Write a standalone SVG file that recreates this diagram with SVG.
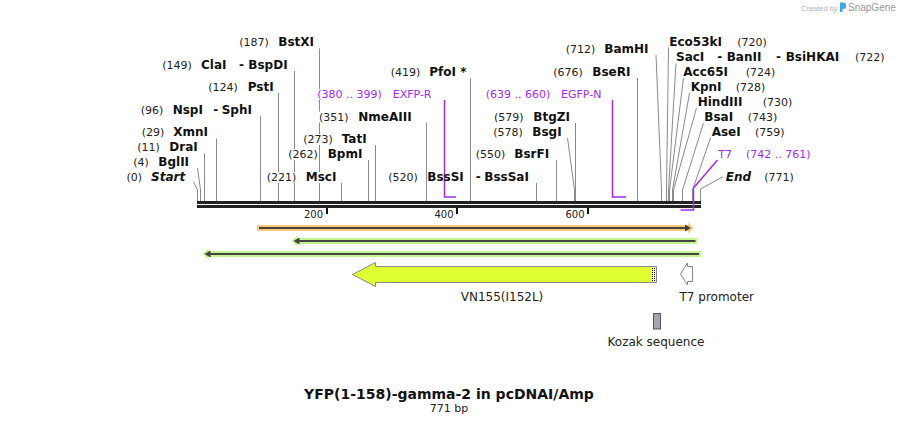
<svg xmlns="http://www.w3.org/2000/svg" width="898" height="424" viewBox="0 0 898 424">
<defs>
<style>
.num{font:11px "DejaVu Sans",Verdana,sans-serif;fill:#222}
.nm{font:bold 12px "DejaVu Sans",Verdana,sans-serif;fill:#111}
.it{font-style:italic}
.pr{font:11px "DejaVu Sans",Verdana,sans-serif;fill:#a02af0}
.cut{stroke:#8a8a8a;stroke-width:1;fill:none}
.pline{stroke:#a02af0;stroke-width:1.5;fill:none}
.ko{fill:#fff}
.ax{font:10px "DejaVu Sans",Verdana,sans-serif;fill:#222;text-anchor:end}
.flab{font:12px "DejaVu Sans",Verdana,sans-serif;fill:#222}
.dark{stroke:#444;stroke-width:2;fill:none}
.darkhead{fill:#444}
.org{fill:#fcc87c}
.grn{fill:#c2f590}
</style>
<pattern id="dots" width="2" height="2" patternUnits="userSpaceOnUse">
<rect width="2" height="2" fill="#f4ffc0"/>
<rect width="1" height="1" fill="#111"/>
</pattern>
</defs>
<rect width="898" height="424" fill="#fff"/>

<g id="brand">
<text x="801" y="10.5" style="font:7.5px 'Liberation Sans',Arial,sans-serif;fill:#b5b5b5">Created by</text>
<path d="M840,2.5 h3.5 a2.5,2.5 0 0 1 2.5,2.5 v1.5 a2.5,2.5 0 0 1 -2.5,2.5 h-1 v3 h-2.5 z" fill="#3aa6e4"/>
<text x="848" y="11" style="font:10px 'Liberation Sans',Arial,sans-serif;fill:#9a9a9a">SnapGene</text>
</g>

<g id="connectors">
<polyline class="cut" points="193.5,182 197.5,190 197.5,201"/>
<polyline class="cut" points="197.5,168 200.5,190 200.5,201"/>
<line class="cut" x1="204.5" y1="153.5" x2="204.5" y2="201"/>
<line class="cut" x1="216.5" y1="138.5" x2="216.5" y2="201"/>
<line class="cut" x1="260.5" y1="116" x2="260.5" y2="201"/>
<line class="cut" x1="278.5" y1="93" x2="278.5" y2="201"/>
<line class="cut" x1="294.5" y1="71" x2="294.5" y2="201"/>
<line class="cut" x1="319.5" y1="48.5" x2="319.5" y2="201"/>
<line class="cut" x1="341.5" y1="183" x2="341.5" y2="201"/>
<line class="cut" x1="368.5" y1="160" x2="368.5" y2="201"/>
<line class="cut" x1="375.5" y1="145" x2="375.5" y2="201"/>
<line class="cut" x1="426.5" y1="122.5" x2="426.5" y2="201"/>
<line class="cut" x1="470.5" y1="78.5" x2="470.5" y2="201"/>
<line class="cut" x1="536.5" y1="183" x2="536.5" y2="201"/>
<line class="cut" x1="556.5" y1="160" x2="556.5" y2="201"/>
<polyline class="cut" points="567.5,138 574.5,190 574.5,201"/>
<line class="cut" x1="575.5" y1="123" x2="575.5" y2="201"/>
<line class="cut" x1="637.5" y1="78" x2="637.5" y2="201"/>
<polyline class="cut" points="656,55 661.5,190 661.5,201"/>
<polyline class="cut" points="668.5,47.5 666.5,190 666.5,201"/>
<polyline class="cut" points="676,63.5 668.5,190 668.5,201"/>
<polyline class="cut" points="683.5,78 669.5,190 669.5,201"/>
<polyline class="cut" points="689.5,93 672.5,190 672.5,201"/>
<polyline class="cut" points="696.5,108 673.5,190 673.5,201"/>
<polyline class="cut" points="703.5,123 682.5,190 682.5,201"/>
<polyline class="cut" points="710.5,138 692.5,190 692.5,201"/>
<polyline class="cut" points="722.5,177 700.5,189 700.5,201"/>
</g>

<g id="backbone">
<rect x="197" y="201" width="504" height="3" fill="#222"/>
<rect x="197" y="205" width="504" height="3" fill="#222"/>
<rect x="326" y="208" width="2" height="6" fill="#111"/>
<rect x="456" y="208" width="2" height="6" fill="#111"/>
<rect x="587" y="208" width="2" height="6" fill="#111"/>
<text class="ax" x="323" y="218">200</text>
<text class="ax" x="453.5" y="218">400</text>
<text class="ax" x="584.5" y="218">600</text>
</g>

<g id="site-start"><text class="num" x="126.5" y="181">(0)</text><text class="nm it" x="151" y="181">Start</text></g>
<g id="site-BglII"><text class="num" x="133.3" y="166">(4)</text><text class="nm" x="158.3" y="166">BglII</text></g>
<g id="site-DraI"><text class="num" x="137.3" y="151">(11)</text><text class="nm" x="169.3" y="151">DraI</text></g>
<g id="site-XmnI"><text class="num" x="141.7" y="136">(29)</text><text class="nm" x="173.3" y="136">XmnI</text></g>
<g id="site-NspI"><text class="num" x="140.7" y="113.5">(96)</text><text class="nm" x="172.7" y="113.5">NspI</text><text class="nm" x="213.3" y="113.5">-</text><text class="nm" x="221.7" y="113.5">SphI</text></g>
<g id="site-PstI"><text class="num" x="208.3" y="91">(124)</text><text class="nm" x="247.7" y="91">PstI</text></g>
<g id="site-ClaI"><text class="num" x="162.3" y="68.5">(149)</text><text class="nm" x="201" y="68.5">ClaI</text><text class="nm" x="239" y="68.5">-</text><text class="nm" x="248.3" y="68.5">BspDI</text></g>
<g id="site-BstXI"><text class="num" x="239.3" y="46">(187)</text><text class="nm" x="278.3" y="46">BstXI</text></g>
<g id="site-MscI"><rect class="ko" x="266" y="172" width="31" height="11"/><rect class="ko" x="305" y="172" width="32" height="11"/><text class="num" x="266.7" y="180.5">(221)</text><text class="nm" x="305.7" y="180.5">MscI</text></g>
<g id="site-BpmI"><rect class="ko" x="287.5" y="149" width="31" height="11"/><text class="num" x="288.3" y="157.5">(262)</text><text class="nm" x="327.7" y="157.5">BpmI</text></g>
<g id="site-TatI"><rect class="ko" x="302.5" y="134" width="31.5" height="11"/><text class="num" x="303.3" y="142.5">(273)</text><text class="nm" x="341.7" y="142.5">TatI</text></g>
<g id="site-NmeAIII"><rect class="ko" x="318.5" y="111.5" width="31" height="11"/><text class="num" x="319" y="120.5">(351)</text><text class="nm" x="358.3" y="120.5">NmeAIII</text></g>
<g id="primer-EXFP-R"><rect class="ko" x="316.5" y="89" width="66" height="11"/><text class="pr" x="317.3" y="97.5">(380 .. 399)</text><text class="pr" x="392.7" y="97.5">EXFP-R</text><polyline class="pline" points="444.5,100 444.5,197 456,197"/></g>
<g id="site-PfoI"><text class="num" x="390.7" y="76">(419)</text><text class="nm" x="429.3" y="76">PfoI *</text></g>
<g id="site-BssSI"><text class="num" x="388.3" y="180.5">(520)</text><text class="nm" x="427.3" y="180.5">BssSI</text><text class="nm" x="475.7" y="180.5">-</text><text class="nm" x="484.3" y="180.5">BssSaI</text></g>
<g id="site-BsrFI"><text class="num" x="475.7" y="157.5">(550)</text><text class="nm" x="514.3" y="157.5">BsrFI</text></g>
<g id="site-BsgI"><text class="num" x="493.3" y="136">(578)</text><text class="nm" x="532.3" y="136">BsgI</text></g>
<g id="site-BtgZI"><text class="num" x="494" y="120.5">(579)</text><text class="nm" x="533.3" y="120.5">BtgZI</text></g>
<g id="primer-EGFP-N"><text class="pr" x="485.7" y="97.5">(639 .. 660)</text><text class="pr" x="561" y="97.5">EGFP-N</text><polyline class="pline" points="612.5,100 612.5,197 626,197"/></g>
<g id="site-BseRI"><text class="num" x="553.3" y="76">(676)</text><text class="nm" x="592.3" y="76">BseRI</text></g>
<g id="site-BamHI"><text class="num" x="565.7" y="52.5">(712)</text><text class="nm" x="604.3" y="52.5">BamHI</text></g>
<g id="site-Eco53kI"><text class="nm" x="669.3" y="46">Eco53kI</text><text class="num" x="737.3" y="46">(720)</text></g>
<g id="site-SacI"><text class="nm" x="676" y="61">SacI</text><text class="nm" x="717.3" y="61">-</text><text class="nm" x="726.7" y="61">BanII</text><text class="nm" x="776" y="61">-</text><text class="nm" x="785.7" y="61">BsiHKAI</text><text class="num" x="855" y="61">(722)</text></g>
<g id="site-Acc65I"><text class="nm" x="683.3" y="76">Acc65I</text><text class="num" x="745.7" y="76">(724)</text></g>
<g id="site-KpnI"><text class="nm" x="690.7" y="91">KpnI</text><text class="num" x="735.7" y="91">(728)</text></g>
<g id="site-HindIII"><text class="nm" x="697.7" y="106">HindIII</text><text class="num" x="762.7" y="106">(730)</text></g>
<g id="site-BsaI"><text class="nm" x="704.3" y="121">BsaI</text><text class="num" x="747.7" y="121">(743)</text></g>
<g id="site-AseI"><text class="nm" x="711.7" y="136">AseI</text><text class="num" x="755" y="136">(759)</text></g>
<g id="primer-T7"><text class="pr" x="718.3" y="157.5">T7</text><text class="pr" x="746" y="157.5">(742 .. 761)</text><polyline class="pline" points="717.5,160 693.5,188 693.5,210 680.5,210"/></g>
<g id="site-end"><text class="nm it" x="725.7" y="181">End</text><text class="num" x="764.3" y="181">(771)</text></g>

<g id="feature-orange">
<path class="org" d="M257,225 H688 V222.5 L693.5,228 L688,233.5 V231 H257 Z"/>
<path class="dark" d="M259,228 H687"/>
<path class="darkhead" d="M685,224.5 L691,228 L685,231.5 Z"/>
</g>
<g id="feature-green1">
<path class="grn" d="M697,238 H297.5 V235.5 L291.5,241 L297.5,246.5 V244 H697 Z"/>
<path class="dark" d="M695.5,241 H298"/>
<path class="darkhead" d="M293.5,241 L299.5,237.5 L299.5,244.5 Z"/>
</g>
<g id="feature-green2">
<path class="grn" d="M701,251 H208.5 V248.5 L202.5,254 L208.5,259.5 V257 H701 Z"/>
<path class="dark" d="M699,254 H209"/>
<path class="darkhead" d="M204.5,254 L210.5,250.5 L210.5,257.5 Z"/>
</g>

<g id="feature-VN155">
<path d="M352.5,274.5 L375.5,262.5 V266.5 H656.5 V282.5 H375.5 V286.5 Z" fill="#dfff33" stroke="#888" stroke-width="1"/>
<rect x="651" y="267" width="5" height="15" fill="url(#dots)"/>
<text class="flab" x="502" y="300.5" text-anchor="middle">VN155(I152L)</text>
</g>
<g id="feature-T7promoter">
<path d="M680.5,274 L687.5,263 V266.5 H692.5 V281.5 H687.5 V285 Z" fill="#fff" stroke="#888" stroke-width="1"/>
<text class="flab" x="679.5" y="300.5">T7 promoter</text>
</g>
<g id="feature-Kozak">
<rect x="653.5" y="313.5" width="7" height="15.5" fill="#a3a6ae" stroke="#555" stroke-width="1"/>
<text class="flab" x="656" y="345.5" text-anchor="middle">Kozak sequence</text>
</g>

<g id="title">
<text x="449" y="398.5" text-anchor="middle" style="font:bold 14px 'DejaVu Sans',Verdana,sans-serif;fill:#111">YFP(1-158)-gamma-2 in pcDNAI/Amp</text>
<text x="449" y="411.5" text-anchor="middle" style="font:11px 'DejaVu Sans',Verdana,sans-serif;fill:#222">771 bp</text>
</g>
</svg>
